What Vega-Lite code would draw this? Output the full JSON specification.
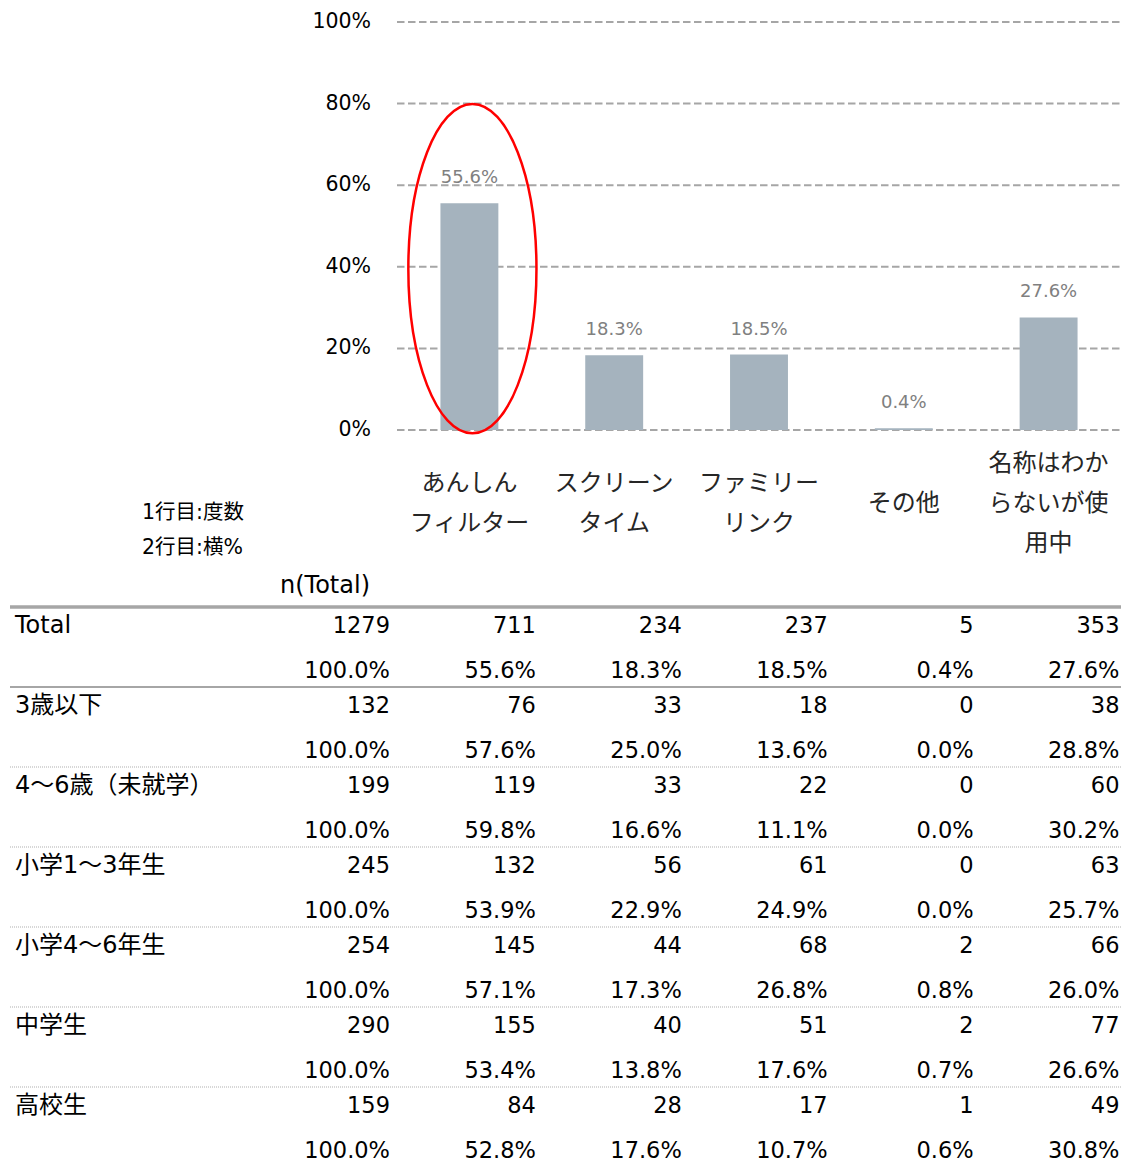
{
  "$schema": "https://vega.github.io/schema/vega-lite/v6.json",
  "width": 1121,
  "height": 1162,
  "padding": 0,
  "autosize": {"type": "none"},
  "config": {"view": {"stroke": null}, "font": "DejaVu Sans, Noto Sans CJK JP"},
  "datasets": {
    "ticks": [{"t": 0}, {"t": 0.2}, {"t": 0.4}, {"t": 0.6}, {"t": 0.8}, {"t": 1}],
    "cats": [
      {"cat": "あんしんフィルター", "label": "あんしん\nフィルター"},
      {"cat": "スクリーンタイム", "label": "スクリーン\nタイム"},
      {"cat": "ファミリーリンク", "label": "ファミリー\nリンク"},
      {"cat": "その他", "label": "その他"},
      {"cat": "名称はわからないが使用中", "label": "名称はわか\nらないが使\n用中"}
    ],
    "table": [
      {"group": "Total", "col": "n", "count": 1279, "pct": 1.0},
      {"group": "Total", "col": "あんしんフィルター", "count": 711, "pct": 0.556},
      {"group": "Total", "col": "スクリーンタイム", "count": 234, "pct": 0.183},
      {"group": "Total", "col": "ファミリーリンク", "count": 237, "pct": 0.185},
      {"group": "Total", "col": "その他", "count": 5, "pct": 0.004},
      {"group": "Total", "col": "名称はわからないが使用中", "count": 353, "pct": 0.276},
      {"group": "3歳以下", "col": "n", "count": 132, "pct": 1.0},
      {"group": "3歳以下", "col": "あんしんフィルター", "count": 76, "pct": 0.576},
      {"group": "3歳以下", "col": "スクリーンタイム", "count": 33, "pct": 0.25},
      {"group": "3歳以下", "col": "ファミリーリンク", "count": 18, "pct": 0.136},
      {"group": "3歳以下", "col": "その他", "count": 0, "pct": 0.0},
      {"group": "3歳以下", "col": "名称はわからないが使用中", "count": 38, "pct": 0.288},
      {"group": "4～6歳（未就学）", "col": "n", "count": 199, "pct": 1.0},
      {"group": "4～6歳（未就学）", "col": "あんしんフィルター", "count": 119, "pct": 0.598},
      {"group": "4～6歳（未就学）", "col": "スクリーンタイム", "count": 33, "pct": 0.166},
      {"group": "4～6歳（未就学）", "col": "ファミリーリンク", "count": 22, "pct": 0.111},
      {"group": "4～6歳（未就学）", "col": "その他", "count": 0, "pct": 0.0},
      {"group": "4～6歳（未就学）", "col": "名称はわからないが使用中", "count": 60, "pct": 0.302},
      {"group": "小学1～3年生", "col": "n", "count": 245, "pct": 1.0},
      {"group": "小学1～3年生", "col": "あんしんフィルター", "count": 132, "pct": 0.539},
      {"group": "小学1～3年生", "col": "スクリーンタイム", "count": 56, "pct": 0.229},
      {"group": "小学1～3年生", "col": "ファミリーリンク", "count": 61, "pct": 0.249},
      {"group": "小学1～3年生", "col": "その他", "count": 0, "pct": 0.0},
      {"group": "小学1～3年生", "col": "名称はわからないが使用中", "count": 63, "pct": 0.257},
      {"group": "小学4～6年生", "col": "n", "count": 254, "pct": 1.0},
      {"group": "小学4～6年生", "col": "あんしんフィルター", "count": 145, "pct": 0.571},
      {"group": "小学4～6年生", "col": "スクリーンタイム", "count": 44, "pct": 0.173},
      {"group": "小学4～6年生", "col": "ファミリーリンク", "count": 68, "pct": 0.268},
      {"group": "小学4～6年生", "col": "その他", "count": 2, "pct": 0.008},
      {"group": "小学4～6年生", "col": "名称はわからないが使用中", "count": 66, "pct": 0.26},
      {"group": "中学生", "col": "n", "count": 290, "pct": 1.0},
      {"group": "中学生", "col": "あんしんフィルター", "count": 155, "pct": 0.534},
      {"group": "中学生", "col": "スクリーンタイム", "count": 40, "pct": 0.138},
      {"group": "中学生", "col": "ファミリーリンク", "count": 51, "pct": 0.176},
      {"group": "中学生", "col": "その他", "count": 2, "pct": 0.007},
      {"group": "中学生", "col": "名称はわからないが使用中", "count": 77, "pct": 0.266},
      {"group": "高校生", "col": "n", "count": 159, "pct": 1.0},
      {"group": "高校生", "col": "あんしんフィルター", "count": 84, "pct": 0.528},
      {"group": "高校生", "col": "スクリーンタイム", "count": 28, "pct": 0.176},
      {"group": "高校生", "col": "ファミリーリンク", "count": 17, "pct": 0.107},
      {"group": "高校生", "col": "その他", "count": 1, "pct": 0.006},
      {"group": "高校生", "col": "名称はわからないが使用中", "count": 49, "pct": 0.308}
    ]
  },
  "resolve": {"scale": {"x": "independent", "y": "independent"}},
  "layer": [
    {
      "data": {"name": "ticks"},
      "mark": {"type": "rule", "color": "#a6a6a6", "strokeWidth": 2, "strokeDash": [7.5, 3.5]},
      "encoding": {
        "y": {"field": "t", "type": "quantitative", "scale": {"domain": [0, 1], "range": [430, 22]}, "axis": null},
        "x": {"datum": 0, "type": "quantitative", "scale": {"domain": [0, 1], "range": [397, 1121]}, "axis": null},
        "x2": {"datum": 1}
      }
    },
    {
      "data": {"name": "table"},
      "transform": [{"filter": "datum.group === 'Total' && datum.col !== 'n'"}],
      "mark": {"type": "bar", "color": "#a5b3be"},
      "encoding": {
        "x": {"field": "col", "type": "nominal", "scale": {"type": "band", "domain": ["あんしんフィルター", "スクリーンタイム", "ファミリーリンク", "その他", "名称はわからないが使用中"], "range": [397, 1121], "paddingInner": 0.6, "paddingOuter": 0.3}, "axis": null},
        "y": {"field": "pct", "type": "quantitative", "scale": {"domain": [0, 1], "range": [430, 22]}, "axis": null}
      }
    },
    {
      "data": {"name": "table"},
      "transform": [{"filter": "datum.group === 'Total' && datum.col !== 'n'"}],
      "mark": {"type": "text", "dy": -25, "fontSize": 18, "color": "#808080", "baseline": "middle"},
      "encoding": {
        "x": {"field": "col", "type": "nominal", "scale": {"type": "band", "domain": ["あんしんフィルター", "スクリーンタイム", "ファミリーリンク", "その他", "名称はわからないが使用中"], "range": [397, 1121], "paddingInner": 0.6, "paddingOuter": 0.3}, "axis": null},
        "y": {"field": "pct", "type": "quantitative", "scale": {"domain": [0, 1], "range": [430, 22]}, "axis": null},
        "text": {"field": "pct", "type": "quantitative", "format": ".1%"}
      }
    },
    {
      "data": {"name": "cats"},
      "transform": [{"filter": "split(datum.label, '\\n').length === 1"}],
      "mark": {"type": "text", "lineBreak": "\n", "lineHeight": 40, "fontSize": 24, "color": "#262626", "dy": 74, "baseline": "middle"},
      "encoding": {
        "x": {"field": "cat", "type": "nominal", "scale": {"type": "band", "domain": ["あんしんフィルター", "スクリーンタイム", "ファミリーリンク", "その他", "名称はわからないが使用中"], "range": [397, 1121], "paddingInner": 0.6, "paddingOuter": 0.3}, "axis": null},
        "y": {"datum": 0, "type": "quantitative", "scale": {"domain": [0, 1], "range": [430, 22]}, "axis": null},
        "text": {"field": "label", "type": "nominal"}
      }
    },
    {
      "data": {"name": "cats"},
      "transform": [{"filter": "split(datum.label, '\\n').length === 2"}],
      "mark": {"type": "text", "lineBreak": "\n", "lineHeight": 40, "fontSize": 24, "color": "#262626", "dy": 54, "baseline": "middle"},
      "encoding": {
        "x": {"field": "cat", "type": "nominal", "scale": {"type": "band", "domain": ["あんしんフィルター", "スクリーンタイム", "ファミリーリンク", "その他", "名称はわからないが使用中"], "range": [397, 1121], "paddingInner": 0.6, "paddingOuter": 0.3}, "axis": null},
        "y": {"datum": 0, "type": "quantitative", "scale": {"domain": [0, 1], "range": [430, 22]}, "axis": null},
        "text": {"field": "label", "type": "nominal"}
      }
    },
    {
      "data": {"name": "cats"},
      "transform": [{"filter": "split(datum.label, '\\n').length === 3"}],
      "mark": {"type": "text", "lineBreak": "\n", "lineHeight": 40, "fontSize": 24, "color": "#262626", "dy": 34, "baseline": "middle"},
      "encoding": {
        "x": {"field": "cat", "type": "nominal", "scale": {"type": "band", "domain": ["あんしんフィルター", "スクリーンタイム", "ファミリーリンク", "その他", "名称はわからないが使用中"], "range": [397, 1121], "paddingInner": 0.6, "paddingOuter": 0.3}, "axis": null},
        "y": {"datum": 0, "type": "quantitative", "scale": {"domain": [0, 1], "range": [430, 22]}, "axis": null},
        "text": {"field": "label", "type": "nominal"}
      }
    },
    {
      "data": {"values": [{"cat": "あんしんフィルター", "mid": 0.3955}]},
      "mark": {"type": "point", "shape": "M -0.389 0 A 0.389 1 0 1 1 0.389 0 A 0.389 1 0 1 1 -0.389 0 Z", "filled": false, "color": "#ff0000", "strokeWidth": 2.5, "size": 108503, "opacity": 1, "xOffset": 3},
      "encoding": {
        "x": {"field": "cat", "type": "nominal", "scale": {"type": "band", "domain": ["あんしんフィルター", "スクリーンタイム", "ファミリーリンク", "その他", "名称はわからないが使用中"], "range": [397, 1121], "paddingInner": 0.6, "paddingOuter": 0.3}, "axis": null},
        "y": {"field": "mid", "type": "quantitative", "scale": {"domain": [0, 1], "range": [430, 22]}, "axis": null}
      }
    },
    {
      "data": {"name": "ticks"},
      "mark": {"type": "text", "align": "right", "baseline": "middle", "dx": -26, "fontSize": 20.5, "color": "#000000"},
      "encoding": {
        "y": {"field": "t", "type": "quantitative", "scale": {"domain": [0, 1], "range": [430, 22]}, "axis": null},
        "x": {"datum": 0, "type": "quantitative", "scale": {"domain": [0, 1], "range": [397, 1121]}, "axis": null},
        "text": {"field": "t", "type": "quantitative", "format": ".0%"}
      }
    },
    {
      "data": {"values": [{"group": "Total"}]},
      "mark": {"type": "rule", "color": "#a6a6a6", "strokeWidth": 3.5, "yOffset": 1},
      "encoding": {
        "y": {"field": "group", "type": "nominal", "bandPosition": 0, "scale": {"type": "band", "domain": ["Total", "3歳以下", "4～6歳（未就学）", "小学1～3年生", "小学4～6年生", "中学生", "高校生"], "range": [606, 1166], "paddingInner": 0, "paddingOuter": 0}, "axis": null},
        "x": {"datum": 0, "type": "quantitative", "scale": {"domain": [0, 1], "range": [10, 1121]}, "axis": null},
        "x2": {"datum": 1}
      }
    },
    {
      "data": {"values": [{"group": "3歳以下"}]},
      "mark": {"type": "rule", "color": "#a6a6a6", "strokeWidth": 2, "yOffset": 1},
      "encoding": {
        "y": {"field": "group", "type": "nominal", "bandPosition": 0, "scale": {"type": "band", "domain": ["Total", "3歳以下", "4～6歳（未就学）", "小学1～3年生", "小学4～6年生", "中学生", "高校生"], "range": [606, 1166], "paddingInner": 0, "paddingOuter": 0}, "axis": null},
        "x": {"datum": 0, "type": "quantitative", "scale": {"domain": [0, 1], "range": [10, 1121]}, "axis": null},
        "x2": {"datum": 1}
      }
    },
    {
      "data": {"name": "table"},
      "transform": [{"filter": "datum.col === 'n' && datum.group !== 'Total' && datum.group !== '3歳以下'"}],
      "mark": {"type": "rule", "color": "#b0b0b0", "strokeWidth": 1.2, "strokeDash": [1, 1], "yOffset": 1},
      "encoding": {
        "y": {"field": "group", "type": "nominal", "bandPosition": 0, "scale": {"type": "band", "domain": ["Total", "3歳以下", "4～6歳（未就学）", "小学1～3年生", "小学4～6年生", "中学生", "高校生"], "range": [606, 1166], "paddingInner": 0, "paddingOuter": 0}, "axis": null},
        "x": {"datum": 0, "type": "quantitative", "scale": {"domain": [0, 1], "range": [10, 1121]}, "axis": null},
        "x2": {"datum": 1}
      }
    },
    {
      "data": {"name": "table"},
      "mark": {"type": "text", "align": "right", "baseline": "middle", "fontSize": 22.5, "color": "#000000"},
      "encoding": {
        "x": {"field": "col", "type": "nominal", "scale": {"type": "point", "domain": ["n", "あんしんフィルター", "スクリーンタイム", "ファミリーリンク", "その他", "名称はわからないが使用中"], "range": [390, 1119.5], "padding": 0}, "axis": null},
        "y": {"field": "group", "type": "nominal", "bandPosition": 0.25, "scale": {"type": "band", "domain": ["Total", "3歳以下", "4～6歳（未就学）", "小学1～3年生", "小学4～6年生", "中学生", "高校生"], "range": [606, 1166], "paddingInner": 0, "paddingOuter": 0}, "axis": null},
        "text": {"field": "count", "type": "quantitative", "format": "d"}
      }
    },
    {
      "data": {"name": "table"},
      "mark": {"type": "text", "align": "right", "baseline": "middle", "fontSize": 22.5, "color": "#000000"},
      "encoding": {
        "x": {"field": "col", "type": "nominal", "scale": {"type": "point", "domain": ["n", "あんしんフィルター", "スクリーンタイム", "ファミリーリンク", "その他", "名称はわからないが使用中"], "range": [390, 1119.5], "padding": 0}, "axis": null},
        "y": {"field": "group", "type": "nominal", "bandPosition": 0.81, "scale": {"type": "band", "domain": ["Total", "3歳以下", "4～6歳（未就学）", "小学1～3年生", "小学4～6年生", "中学生", "高校生"], "range": [606, 1166], "paddingInner": 0, "paddingOuter": 0}, "axis": null},
        "text": {"field": "pct", "type": "quantitative", "format": ".1%"}
      }
    },
    {
      "data": {"name": "table"},
      "transform": [{"filter": "datum.col === 'n'"}],
      "mark": {"type": "text", "align": "left", "baseline": "middle", "dx": -375, "fontSize": 24, "color": "#000000"},
      "encoding": {
        "x": {"field": "col", "type": "nominal", "scale": {"type": "point", "domain": ["n", "あんしんフィルター", "スクリーンタイム", "ファミリーリンク", "その他", "名称はわからないが使用中"], "range": [390, 1119.5], "padding": 0}, "axis": null},
        "y": {"field": "group", "type": "nominal", "bandPosition": 0.25, "scale": {"type": "band", "domain": ["Total", "3歳以下", "4～6歳（未就学）", "小学1～3年生", "小学4～6年生", "中学生", "高校生"], "range": [606, 1166], "paddingInner": 0, "paddingOuter": 0}, "axis": null},
        "text": {"field": "group", "type": "nominal"}
      }
    },
    {
      "data": {"values": [{"col": "n", "group": "Total", "label": "n(Total)"}]},
      "mark": {"type": "text", "align": "right", "baseline": "middle", "dx": -20, "dy": -40, "fontSize": 24, "color": "#000000"},
      "encoding": {
        "x": {"field": "col", "type": "nominal", "scale": {"type": "point", "domain": ["n", "あんしんフィルター", "スクリーンタイム", "ファミリーリンク", "その他", "名称はわからないが使用中"], "range": [390, 1119.5], "padding": 0}, "axis": null},
        "y": {"field": "group", "type": "nominal", "bandPosition": 0.25, "scale": {"type": "band", "domain": ["Total", "3歳以下", "4～6歳（未就学）", "小学1～3年生", "小学4～6年生", "中学生", "高校生"], "range": [606, 1166], "paddingInner": 0, "paddingOuter": 0}, "axis": null},
        "text": {"field": "label", "type": "nominal"}
      }
    },
    {
      "data": {"values": [{"col": "n", "group": "Total", "note": "1行目:度数\n2行目:横%"}]},
      "mark": {"type": "text", "align": "left", "baseline": "middle", "lineBreak": "\n", "lineHeight": 35, "dx": -248, "dy": -93, "fontSize": 20.5, "color": "#000000"},
      "encoding": {
        "x": {"field": "col", "type": "nominal", "scale": {"type": "point", "domain": ["n", "あんしんフィルター", "スクリーンタイム", "ファミリーリンク", "その他", "名称はわからないが使用中"], "range": [390, 1119.5], "padding": 0}, "axis": null},
        "y": {"field": "group", "type": "nominal", "bandPosition": 0, "scale": {"type": "band", "domain": ["Total", "3歳以下", "4～6歳（未就学）", "小学1～3年生", "小学4～6年生", "中学生", "高校生"], "range": [606, 1166], "paddingInner": 0, "paddingOuter": 0}, "axis": null},
        "text": {"field": "note", "type": "nominal"}
      }
    }
  ]
}
